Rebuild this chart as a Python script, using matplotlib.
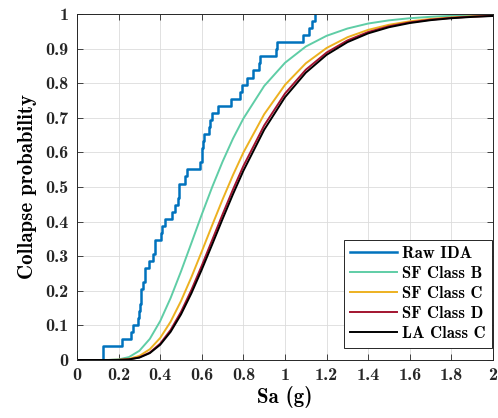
import matplotlib
matplotlib.use("Agg")
import matplotlib.pyplot as plt
from matplotlib.ticker import FuncFormatter

# Raw IDA: empirical CDF steps (Sa at each collapse, probability after the step)
raw_sa = [0.127, 0.218, 0.258, 0.270, 0.295, 0.298, 0.303, 0.306, 0.310, 0.317,
          0.325, 0.328, 0.346, 0.365, 0.373, 0.375, 0.405, 0.410, 0.425, 0.455,
          0.471, 0.487, 0.489, 0.490, 0.520, 0.528, 0.590, 0.600, 0.603, 0.607,
          0.610, 0.636, 0.638, 0.647, 0.680, 0.738, 0.784, 0.792, 0.816, 0.848,
          0.876, 0.878, 0.957, 0.962, 1.088, 1.117, 1.128, 1.144]
raw_p = [0.041, 0.061, 0.082, 0.101, 0.122, 0.143, 0.163, 0.184, 0.204, 0.224,
         0.245, 0.265, 0.286, 0.306, 0.327, 0.347, 0.367, 0.388, 0.408, 0.429,
         0.449, 0.469, 0.490, 0.510, 0.531, 0.551, 0.571, 0.592, 0.612, 0.633,
         0.653, 0.673, 0.694, 0.714, 0.735, 0.755, 0.776, 0.796, 0.816, 0.837,
         0.857, 0.878, 0.898, 0.918, 0.939, 0.959, 0.980, 1.0]

sa = [0, 0.1, 0.15, 0.2, 0.25, 0.3, 0.35, 0.4, 0.45, 0.5, 0.55, 0.6, 0.65, 0.7,
      0.75, 0.8, 0.9, 1.0, 1.1, 1.2, 1.3, 1.4, 1.5, 1.6, 1.7, 1.8, 1.9, 2.0]
sf_b = [0, 0, 0.0001, 0.0016, 0.0084, 0.0266, 0.0609, 0.1124, 0.179, 0.256,
        0.338, 0.4207, 0.5, 0.5735, 0.640, 0.698, 0.792, 0.859, 0.906, 0.937,
        0.958, 0.9725, 0.9817, 0.9878, 0.9919, 0.9946, 0.9963, 0.9975]
sf_c = [0, 0, 0, 0.0005, 0.0032, 0.0118, 0.031, 0.0637, 0.1107, 0.1704,
        0.2394, 0.3138, 0.3897, 0.4641, 0.5346, 0.5997, 0.7104, 0.7952, 0.8575,
        0.9018, 0.9328, 0.9542, 0.9689, 0.9788, 0.9856, 0.9901, 0.9932, 0.9954]
sf_d = [0, 0, 0, 0.0002, 0.0018, 0.0076, 0.0215, 0.0473, 0.0866, 0.139,
        0.2023, 0.2728, 0.3468, 0.4211, 0.493, 0.5606, 0.678, 0.7702, 0.839,
        0.8886, 0.9236, 0.9479, 0.9646, 0.9759, 0.9837, 0.9889, 0.9924, 0.9948]
la_c = [0, 0, 0, 0.0002, 0.0016, 0.0069, 0.0198, 0.044, 0.0813, 0.1316,
        0.1927, 0.2614, 0.334, 0.4076, 0.4793, 0.5469, 0.6655, 0.7596, 0.8304,
        0.882, 0.9186, 0.9441, 0.9618, 0.9739, 0.9822, 0.9878, 0.9917, 0.9943]

labels = ['Raw IDA', 'SF Class B', 'SF Class C', 'SF Class D', 'LA Class C']
colors = ['#0072BD', '#5FCDA6', '#EDB120', '#A2142F', '#000000']

plt.rcParams['font.family'] = ['cmb10', 'DejaVu Serif']
plt.rcParams['axes.unicode_minus'] = False

fig = plt.figure(figsize=(4.98, 4.18), dpi=100)
ax = fig.add_axes([0.1546, 0.1388, 0.8354, 0.8277])

ax.step([raw_sa[0]] + raw_sa, [0] + raw_p, where='post', color=colors[0], lw=1.8, label=labels[0])
ax.plot(sa, sf_b, color=colors[1], lw=1.4, label=labels[1])
ax.plot(sa, sf_c, color=colors[2], lw=1.4, label=labels[2])
ax.plot(sa, sf_d, color=colors[3], lw=1.4, label=labels[3])
ax.plot(sa, la_c, color=colors[4], lw=1.4, label=labels[4])

ax.set_xlim(0, 2)
ax.set_ylim(0, 1)
ax.set_xticks([i * 0.2 for i in range(11)])
ax.set_yticks([i * 0.1 for i in range(11)])
fmt = FuncFormatter(lambda v, p: '%g' % round(v, 2))
ax.xaxis.set_major_formatter(fmt)
ax.yaxis.set_major_formatter(fmt)
ax.tick_params(direction='in', length=4, width=0.6, top=True, right=True,
               labelsize=13, pad=6, colors='#262626')
ax.grid(True, color='#dcdcdc', lw=0.6)
ax.set_axisbelow(True)
for s in ax.spines.values():
    s.set_linewidth(0.7)
    s.set_color('#262626')

ax.set_xlabel('Sa (g)', fontsize=15, labelpad=2)
ax.set_ylabel('Collapse probability', fontsize=15, labelpad=6)

leg = ax.legend(loc='lower right', bbox_to_anchor=(0.998, 0.035), borderaxespad=0,
                fontsize=12, handlelength=2.8, handletextpad=0.3, labelspacing=0.3,
                fancybox=False, framealpha=1, edgecolor='#262626', borderpad=0.4)
leg.get_frame().set_linewidth(0.7)

fig.savefig('out.png', dpi=100)
